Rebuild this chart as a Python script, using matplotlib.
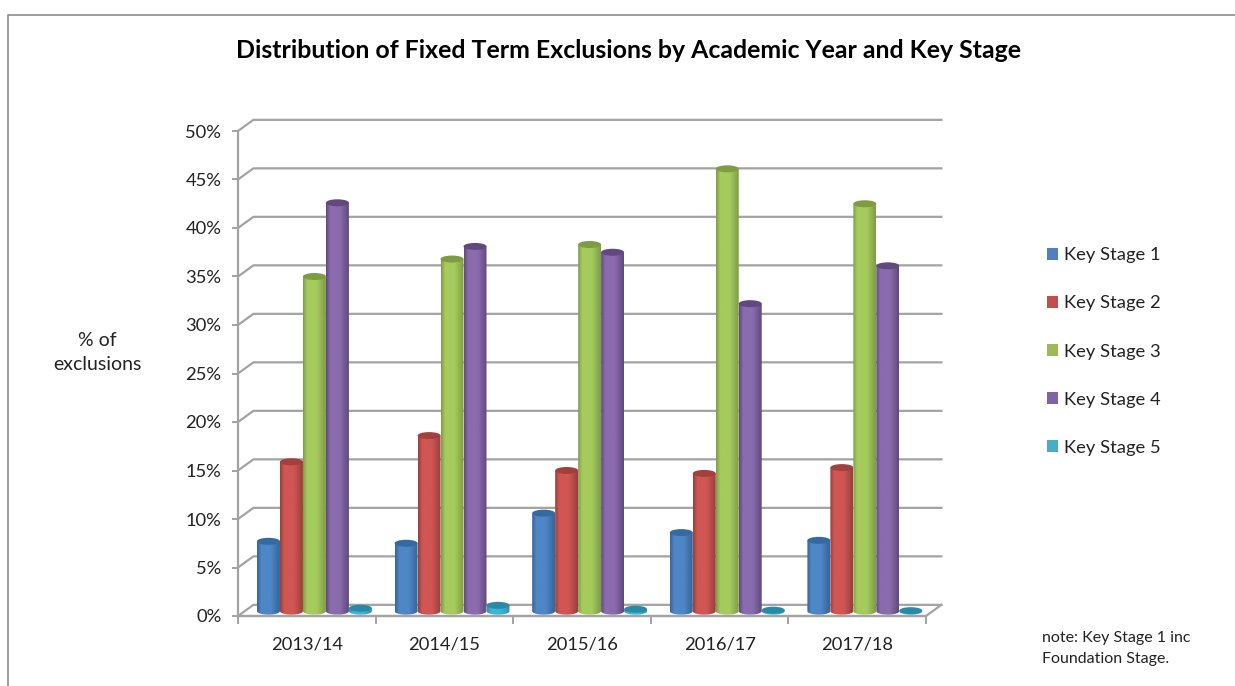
import numpy as np
import matplotlib
matplotlib.use("Agg")
import matplotlib.pyplot as plt
from matplotlib.patches import Ellipse, PathPatch, Patch
from matplotlib.path import Path
from matplotlib.colors import LinearSegmentedColormap
from matplotlib.lines import Line2D

plt.rcParams['font.family'] = ['Lato', 'DejaVu Sans']

years = ['2013/14', '2014/15', '2015/16', '2016/17', '2017/18']
stages = ['Key Stage 1', 'Key Stage 2', 'Key Stage 3', 'Key Stage 4', 'Key Stage 5']
ks1 = [7.2, 7.0, 10.1, 8.1, 7.3]
ks2 = [15.4, 18.1, 14.5, 14.2, 14.8]
ks3 = [34.5, 36.3, 37.8, 45.6, 42.0]
ks4 = [42.1, 37.6, 37.0, 31.7, 35.6]
ks5 = [0.3, 0.6, 0.2, 0.1, 0.05]
series = [ks1, ks2, ks3, ks4, ks5]
yticks = list(range(0, 51, 5))

# dark edge, bright body, top cap, legend swatch
palette = [('#356599', '#4f86c6', '#366a9f', '#4f81bd'),
           ('#983f3c', '#cf5653', '#a33f3c', '#c0504d'),
           ('#809c48', '#a6cb5d', '#7e9c40', '#9bbb59'),
           ('#5f4a7d', '#8a6cae', '#62487f', '#8064a2'),
           ('#2f93ae', '#3cb6d6', '#2a8aa5', '#4bacc6')]

W, H = 1235, 686
fig = plt.figure(figsize=(W / 100, H / 100), dpi=100)
ax = fig.add_axes([238 / W, (H - 616) / H, (926 - 238) / W, (616 - 131) / H])
ax.set_xlim(0, 5)
ax.set_ylim(0, 50)

GRID = '#a3a3a3'
DX, DY = 0.112, 1.15          # depth of the 3-D box, in data units
BAR_W, BAR_X0, BASE = 0.167, 0.138, 0.5
CAP_H = 0.72

# back wall gridlines with their slanted links to the front wall
for t in yticks:
    ax.plot([0, DX, 5 + DX], [t, t + DY, t + DY], color=GRID, lw=1.6,
            clip_on=False, zorder=1, solid_joinstyle='miter')
ax.plot([0, 5, 5 + DX], [0, 0, DY], color=GRID, lw=1.6, clip_on=False, zorder=1)

gradient = np.linspace(0, 1, 64).reshape(1, -1)
for s, vals in enumerate(series):
    dark, body, cap, _ = palette[s]
    cmap = LinearSegmentedColormap.from_list(
        f's{s}', [(0, dark), (0.18, body), (0.6, body), (1, dark)])
    for c, v in enumerate(vals):
        x0 = c + BAR_X0 + s * BAR_W
        x1 = x0 + BAR_W
        cx = (x0 + x1) / 2
        top = BASE + v
        t = np.linspace(np.pi, 2 * np.pi, 24)
        bx = cx + BAR_W / 2 * np.cos(t)
        by = BASE + CAP_H / 2 * np.sin(t)
        verts = list(zip(bx, by)) + [(x1, top), (x0, top), (x0, BASE)]
        codes = [Path.MOVETO] + [Path.LINETO] * (len(verts) - 2) + [Path.CLOSEPOLY]
        shape = PathPatch(Path(verts, codes), fc='none', ec='none', zorder=3 + s)
        ax.add_patch(shape)
        im = ax.imshow(gradient, extent=(x0, x1, BASE - CAP_H, top), aspect='auto',
                       cmap=cmap, vmin=0, vmax=1, zorder=3 + s, interpolation='bilinear')
        im.set_clip_path(shape)
        ax.add_patch(Ellipse((cx, top), BAR_W, CAP_H, fc=cap, ec='none', zorder=3.5 + s))

ax.set_xlim(0, 5)
ax.set_ylim(0, 50)

for name in ['top', 'right']:
    ax.spines[name].set_visible(False)
for name in ['left', 'bottom']:
    ax.spines[name].set_color(GRID)
    ax.spines[name].set_linewidth(1.6)
ax.patch.set_alpha(0)

ax.set_yticks(yticks)
ax.set_yticklabels([f'{t}%' for t in yticks], fontsize=13.2, color='#222222')
ax.tick_params(axis='y', length=4, width=1.4, color=GRID, pad=8)
ax.set_xticks(range(6))
ax.set_xticklabels([])
ax.tick_params(axis='x', which='major', length=5.5, width=1.4, color=GRID)
ax.set_xticks(np.arange(5) + 0.5, minor=True)
ax.set_xticklabels(years, minor=True, fontsize=13.2, color='#222222')
ax.tick_params(axis='x', which='minor', length=0, pad=14.5)

fig.text(628.5 / W, 1 - 50 / H, 'Distribution of Fixed Term Exclusions by Academic Year and Key Stage',
         ha='center', va='center', fontsize=17.9, fontweight='bold', color='black')
fig.text(97 / W, 1 - 352.5 / H, '% of\nexclusions', ha='center', va='center',
         fontsize=14, color='#222222', linespacing=1.5)
fig.text(1042 / W, 1 - 648.5 / H, 'note: Key Stage 1 inc\nFoundation Stage.', ha='left', va='center',
         fontsize=11.5, color='#222222', linespacing=1.55)

handles = [Patch(fc=p[3], ec='none') for p in palette]
fig.legend(handles, stages, loc='center left', bbox_to_anchor=(1047 / W, 1 - 351.5 / H),
           frameon=False, fontsize=13.2, handlelength=0.62, handleheight=0.62,
           handletextpad=0.28, labelspacing=1.75, labelcolor='#222222',
           borderpad=0, borderaxespad=0)

# outer picture frame
frame = '#8c8c8c'
fig.add_artist(Line2D([8 / W, 8 / W, 1], [0, 1 - 15 / H, 1 - 15 / H], color=frame, lw=1.2,
                      transform=fig.transFigure))

fig.savefig('out.png', dpi=100)
